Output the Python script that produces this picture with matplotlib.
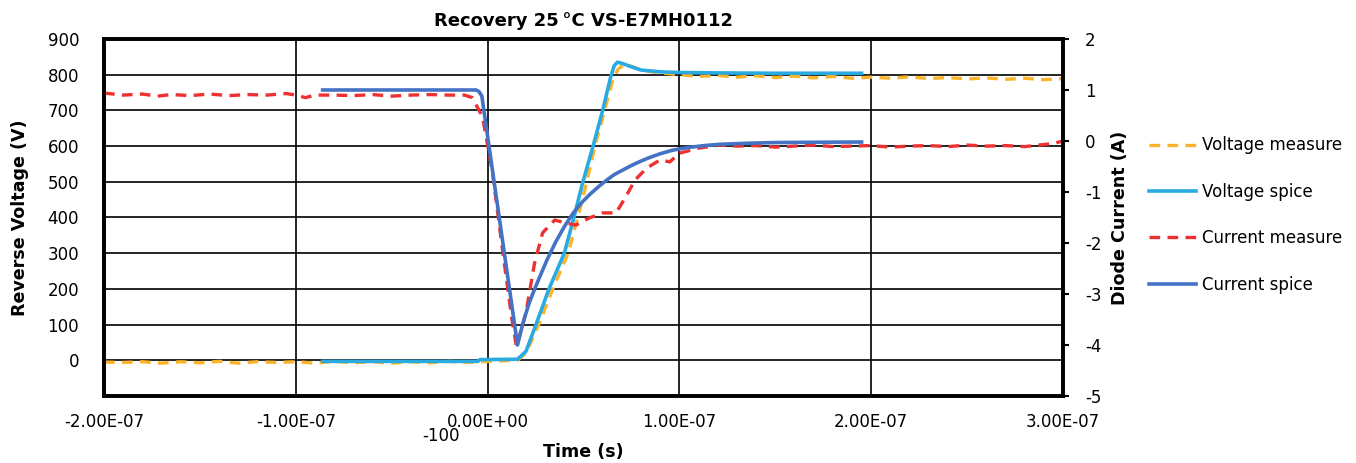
import numpy as np
import matplotlib.pyplot as plt
from matplotlib.ticker import FuncFormatter, MultipleLocator

plt.rcParams['font.family'] = ['DejaVu Sans']
plt.rcParams['axes.unicode_minus'] = False

# time in ns, voltage in V, current in A
t_vm = [-200, -190, -180, -170, -160, -150, -140, -130, -120, -110, -100, -90, -80, -70, -60, -50,
        -40, -30, -20, -10, 0, 10, 15.6, 20, 27, 34, 42, 47, 51.5, 56, 61, 65, 68, 71, 76, 80, 90,
        100, 110, 120, 130, 140, 150, 160, 170, 180, 190, 200, 210, 220, 230, 240, 250, 260, 270,
        280, 290, 300]
v_meas = [-5, -6, -4, -8, -4, -7, -3, -8, -4, -6, -4, -8, -3, -7, -4, -8, -4, -7, -3, -6, -3, -1, 0,
          20, 104, 200, 300, 400, 496, 600, 700, 780, 815, 829, 822, 812, 805, 800, 795, 798, 793,
          797, 792, 796, 791, 795, 790, 793, 790, 794, 789, 792, 788, 791, 787, 790, 786, 789]

t_vs = [-86, -5, -4, 15.6, 20, 25.5, 32, 40, 45, 49.5, 55, 60, 64, 66, 67.7, 70, 75, 80, 90, 100,
        120, 150, 195]
v_spice = [-3, -3, 2, 3, 25, 104, 200, 300, 400, 496, 600, 700, 790, 825, 835, 832, 822, 813, 808,
           806, 805, 804, 804]

t_im = [-200, -195, -190, -180, -172, -165, -155, -145, -135, -125, -115, -105, -100, -95, -90, -80,
        -70, -60, -50, -40, -30, -20, -12, -8, -2.6, 2.6, 7.8, 12.5, 15.1, 20, 24.5, 28.7, 35, 41,
        46, 53, 60, 67, 71, 77, 83, 90, 95, 100, 110, 121, 130, 140, 150, 160, 170, 180, 190, 200,
        210, 220, 230, 240, 250, 260, 270, 280, 290, 295, 300]
i_meas = [0.94, 0.92, 0.90, 0.92, 0.88, 0.91, 0.89, 0.92, 0.89, 0.91, 0.90, 0.93, 0.90, 0.85, 0.90,
          0.90, 0.89, 0.91, 0.88, 0.90, 0.91, 0.90, 0.90, 0.85, 0.47, -0.63, -2.14, -3.45, -4.04,
          -3.37, -2.39, -1.80, -1.55, -1.61, -1.65, -1.51, -1.41, -1.41, -1.16, -0.76, -0.53, -0.37,
          -0.41, -0.24, -0.14, -0.08, -0.10, -0.09, -0.12, -0.10, -0.08, -0.11, -0.10, -0.09, -0.12,
          -0.10, -0.09, -0.11, -0.08, -0.10, -0.09, -0.11, -0.07, -0.05, 0.0]

t_is = [-86, -6, -4.5, -3, 15.6, 17, 19, 21.5, 24, 27, 31, 35.5, 40, 44.5, 49, 53.5, 58, 62, 66,
        70.5, 75, 79, 84, 90, 96.5, 104, 113, 121, 135, 150, 170, 195]
i_spice = [1.0, 1.0, 0.97, 0.88, -4.0, -3.78, -3.5, -3.2, -2.95, -2.68, -2.33, -1.98, -1.68, -1.42,
           -1.21, -1.04, -0.89, -0.77, -0.66, -0.57, -0.48, -0.41, -0.33, -0.25, -0.18, -0.13,
           -0.09, -0.065, -0.045, -0.03, -0.025, -0.02]

c_vm = '#FBB42A'
c_vs = '#29ABE2'
c_im = '#EE3030'
c_is = '#4472C4'

fig = plt.figure(figsize=(13.56, 4.63), dpi=100)
ax = fig.add_axes([0.0767, 0.1447, 0.7072, 0.7711])
ax2 = ax.twinx()

dash = (0, (3.2, 2.2))
l1, = ax.plot(np.array(t_vm) * 1e-9, v_meas, color=c_vm, lw=2.4, ls=dash, label='Voltage measure')
l2, = ax.plot(np.array(t_vs) * 1e-9, v_spice, color=c_vs, lw=2.6, label='Voltage spice')
l3, = ax2.plot(np.array(t_im) * 1e-9, i_meas, color=c_im, lw=2.4, ls=dash, label='Current measure')
l4, = ax2.plot(np.array(t_is) * 1e-9, i_spice, color=c_is, lw=2.6, label='Current spice')

ax.set_xlim(-2e-7, 3e-7)
ax.set_ylim(-100, 900)
ax2.set_ylim(-5, 2)
ax.xaxis.set_major_locator(MultipleLocator(1e-7))
ax.xaxis.set_major_formatter(FuncFormatter(lambda x, p: '%.2E' % (0 if abs(x) < 1e-12 else x)))
ax.set_yticks(range(0, 901, 100))
ax2.set_yticks(range(-5, 3))
ax.grid(True, color='black', lw=1.2)

for s in ax.spines.values():
    s.set_linewidth(2.6)
for s in ax2.spines.values():
    s.set_linewidth(2.6)

ax.tick_params(axis='y', length=0, pad=18, labelsize=12)
ax.tick_params(axis='x', length=0, pad=12, labelsize=12)
ax2.tick_params(axis='y', length=4, width=1.5, direction='out', pad=12, labelsize=12)

ax.set_title('Recovery 25\u2009°C VS-E7MH0112', fontsize=13, fontweight='bold', pad=9)
ax.set_xlabel('Time (s)', fontsize=12.6, fontweight='bold', labelpad=9)
ax.set_ylabel('Reverse Voltage (V)', fontsize=12.6, fontweight='bold', labelpad=13)
ax2.set_ylabel('Diode Current (A)', fontsize=12.6, fontweight='bold', labelpad=7)

fig.text(441 / 1356, 1 - 436 / 463, '-100', fontsize=12, ha='center', va='center')

fig.legend(handles=[l1, l2, l3, l4], loc='center left', bbox_to_anchor=(1134 / 1356, 1 - 215 / 463),
           frameon=False, fontsize=12, handlelength=2.8, labelspacing=1.7, handletextpad=0.4)

fig.savefig('out.png', dpi=100)
